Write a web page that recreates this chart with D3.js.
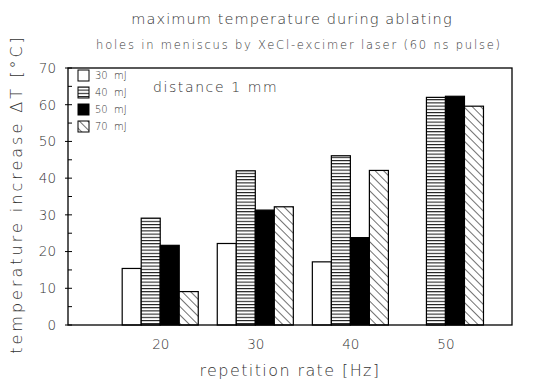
<!DOCTYPE html>
<html>
<head>
<meta charset="utf-8">
<script src="https://cdn.jsdelivr.net/npm/d3@7"></script>
<style>
body { margin: 0; background: #fff; }
text { font-family: "DejaVu Sans", sans-serif; fill: #333; font-weight: 200; }
</style>
</head>
<body>
<svg id="chart"></svg>
<script>
var svgDimensions = { width: 543, height: 383 };
var frame = { left: 68, right: 512, top: 68, bottom: 325 };

// data
var rates = [20, 30, 40, 50];
var energies = ['30  mJ', '40  mJ', '50  mJ', '70  mJ'];
var values30 = [15.4, 22.2, 17.2, null];
var values40 = [29.1, 42.0, 46.1, 62.0];
var values50 = [21.7, 31.3, 23.8, 62.3];
var values70 = [9.1, 32.2, 42.1, 59.6];
var yTicks = [0, 10, 20, 30, 40, 50, 60, 70];
var series = [values30, values40, values50, values70];
var fills = ['#fff', 'url(#hlines)', '#000', 'url(#diag)'];

var svg = d3.select('#chart')
	.attr('width', svgDimensions.width)
	.attr('height', svgDimensions.height);

var defs = svg.append('defs');
var h = defs.append('pattern')
	.attr('id', 'hlines')
	.attr('patternUnits', 'userSpaceOnUse')
	.attr('width', 6).attr('height', 3.2);
h.append('rect').attr('width', 6).attr('height', 3.2).attr('fill', '#fff');
h.append('line').attr('x1', 0).attr('x2', 6).attr('y1', 0.5).attr('y2', 0.5)
	.attr('stroke', '#111').attr('stroke-width', 1.1);

var dg = defs.append('pattern')
	.attr('id', 'diag')
	.attr('patternUnits', 'userSpaceOnUse')
	.attr('width', 6).attr('height', 6)
	.attr('patternTransform', 'rotate(-45)');
dg.append('rect').attr('width', 6).attr('height', 6).attr('fill', '#fff');
dg.append('line').attr('x1', 0).attr('x2', 0).attr('y1', 0).attr('y2', 6)
	.attr('stroke', '#111').attr('stroke-width', 1.2);

var x = d3.scaleLinear().domain([10.3, 57]).range([frame.left, frame.right]);
var y = d3.scaleLinear().domain([0, 70]).range([frame.bottom, frame.top]);
var barW = x(12) - x(10);

// titles
svg.append('text')
	.attr('x', 292).attr('y', 24)
	.attr('text-anchor', 'middle')
	.attr('font-size', 14.5).attr('letter-spacing', 1.1)
	.text('maximum temperature during ablating');
svg.append('text')
	.attr('x', 299).attr('y', 49)
	.attr('text-anchor', 'middle')
	.attr('font-size', 11.5).attr('letter-spacing', 1.8)
	.text('holes in meniscus by XeCl-excimer laser (60 ns pulse)');

// bars
var barsG = svg.append('g');
series.forEach(function(vals, s) {
	barsG.selectAll('rect.s' + s)
		.data(rates.map(function(r, i) { return { rate: r, v: vals[i] }; })
			.filter(function(d) { return d.v !== null; }))
		.enter()
		.append('rect')
		.attr('class', 's' + s)
		.attr('x', function(d) { return x(d.rate) + (s - 2) * barW; })
		.attr('y', function(d) { return y(d.v); })
		.attr('width', barW)
		.attr('height', function(d) { return y(0) - y(d.v); })
		.attr('fill', fills[s])
		.attr('stroke', '#000')
		.attr('stroke-width', 1.2);
});

// frame
svg.append('rect')
	.attr('x', frame.left).attr('y', frame.top)
	.attr('width', frame.right - frame.left)
	.attr('height', frame.bottom - frame.top)
	.attr('fill', 'none').attr('stroke', '#000').attr('stroke-width', 1.3);

// y axis
var yAxis = d3.axisLeft(y).tickValues(yTicks).tickSize(0).tickPadding(12);
var yG = svg.append('g').attr('transform', 'translate(' + frame.left + ',0)').call(yAxis);
yG.select('.domain').remove();
yG.selectAll('text').attr('font-size', 13.5).attr('font-family', '"DejaVu Sans", sans-serif')
	.attr('fill', '#333').attr('font-weight', 200);
svg.append('g').selectAll('line')
	.data(d3.range(0, 71, 5))
	.enter().append('line')
	.attr('x1', function(d) { return d % 10 === 0 ? frame.left - 3 : frame.left; })
	.attr('x2', function(d) { return frame.left + 4; })
	.attr('y1', function(d) { return y(d); })
	.attr('y2', function(d) { return y(d); })
	.attr('stroke', '#000');

// x axis labels
var xAxis = d3.axisBottom(x).tickValues(rates).tickSize(0).tickPadding(14);
var xG = svg.append('g').attr('transform', 'translate(0,' + frame.bottom + ')').call(xAxis);
xG.select('.domain').remove();
xG.selectAll('text').attr('font-size', 13.5).attr('font-family', '"DejaVu Sans", sans-serif')
	.attr('fill', '#333').attr('font-weight', 200);

svg.append('text')
	.attr('x', 290).attr('y', 376)
	.attr('text-anchor', 'middle')
	.attr('font-size', 16).attr('letter-spacing', 1.4)
	.text('repetition rate [Hz]');
svg.append('text')
	.attr('transform', 'translate(22,' + 194 + ') rotate(-90)')
	.attr('text-anchor', 'middle')
	.attr('font-size', 16).attr('letter-spacing', 3)
	.text('temperature increase ΔT [°C]');

// legend
var legend = svg.append('g');
energies.forEach(function(e, i) {
	var ly = 75 + i * 17;
	legend.append('rect')
		.attr('x', 78).attr('y', ly - 5)
		.attr('width', 11).attr('height', 11)
		.attr('fill', fills[i]).attr('stroke', '#000');
	legend.append('text')
		.attr('x', 95).attr('y', ly + 4)
		.attr('font-size', 10)
		.attr('xml:space', 'preserve')
		.style('white-space', 'pre')
		.text(e);
});
svg.append('text')
	.attr('x', 153).attr('y', 92)
	.attr('font-size', 14).attr('letter-spacing', 1.6)
	.text('distance 1 mm');
</script>
</body>
</html>
